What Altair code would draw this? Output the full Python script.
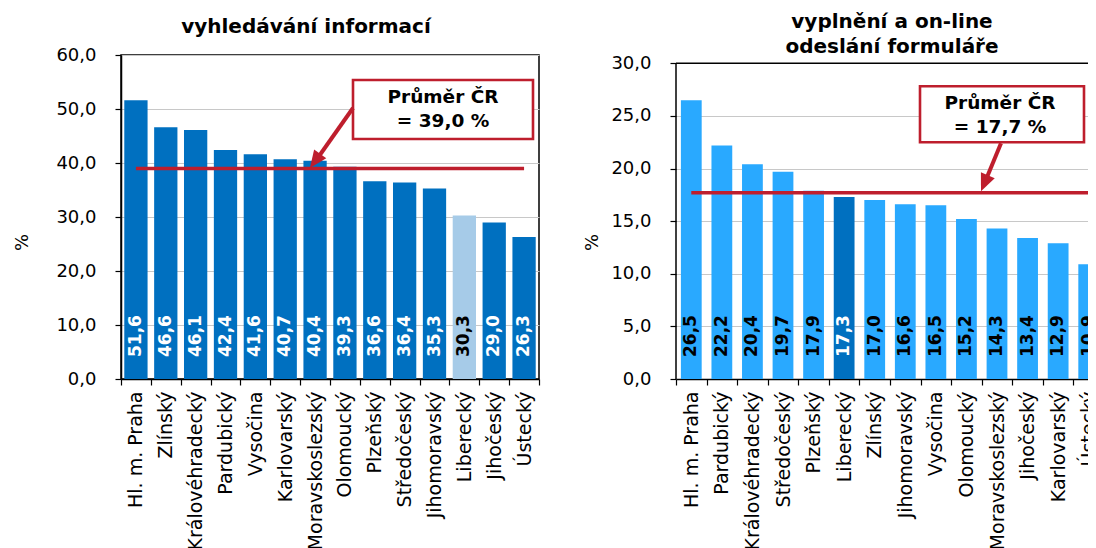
import altair as alt
import pandas as pd

# ---------------- data ----------------
left_regions = ["Hl. m. Praha", "Zlínský", "Královéhradecký", "Pardubický", "Vysočina",
                "Karlovarský", "Moravskoslezský", "Olomoucký", "Plzeňský", "Středočeský",
                "Jihomoravský", "Liberecký", "Jihočeský", "Ústecký"]
left_values = [51.6, 46.6, 46.1, 42.4, 41.6, 40.7, 40.4, 39.3, 36.6, 36.4, 35.3, 30.3, 29.0, 26.3]
left_avg = 39.0
left_title = ["vyhledávání informací"]

right_regions = ["Hl. m. Praha", "Pardubický", "Královéhradecký", "Středočeský", "Plzeňský",
                 "Liberecký", "Zlínský", "Jihomoravský", "Vysočina", "Olomoucký",
                 "Moravskoslezský", "Jihočeský", "Karlovarský", "Ústecký"]
right_values = [26.5, 22.2, 20.4, 19.7, 17.9, 17.3, 17.0, 16.6, 16.5, 15.2, 14.3, 13.4, 12.9, 10.9]
right_avg = 17.7
right_title = ["vyplnění a on-line", "odeslání formuláře"]

highlight = "Liberecký"
avg_caption = "Průměr ČR"

FONT = "DejaVu Sans"
RED = "#BE1E2D"


def fmt(v):
    return f"{v:.1f}".replace(".", ",")


def panel(regions, values, avg, ymax, ytop, ystep, w, h, band, base_col, hl_col,
          base_txt, hl_txt, title_lines, title_x, title_ys, top_y, title_x_off,
          box, txt_pos, arrow, head, head_angle, framed):
    df = pd.DataFrame({"region": regions, "value": values})
    df["label"] = [fmt(v) for v in values]
    df["kind"] = ["hl" if r == highlight else "base" for r in regions]
    df["avg"] = avg

    x_axis = alt.Axis(title=None, labelAngle=270, labelFont=FONT, labelFontSize=19,
                      labelColor="black", labelPadding=6, labelLimit=400,
                      labelOverlap=False, tickBand="extent", tickSize=6,
                      tickColor="black", tickWidth=1.2, domainColor="black",
                      domainWidth=1.5, grid=False)
    y_axis = alt.Axis(title="%", values=list(range(0, ymax + 1, ystep)),
                      labelExpr="replace(format(datum.value, '.1f'), '.', ',')",
                      labelFont=FONT, labelFontSize=18, labelColor="black",
                      labelPadding=19, tickSize=6, tickColor="black", tickWidth=1.2,
                      domain=framed, domainColor="black", domainWidth=1.5,
                      gridColor="#C8C8C8", gridWidth=1, titleFont=FONT,
                      titleFontSize=18, titleFontWeight="normal", titleColor="black",
                      titleX=title_x_off, titleY=187)
    xs = alt.X("region:N", sort=regions,
               scale=alt.Scale(paddingInner=0, paddingOuter=0), axis=x_axis)
    ys = alt.Y("value:Q", scale=alt.Scale(domain=[0, ytop], nice=False), axis=y_axis)

    base = alt.Chart(df)
    bars = base.mark_bar(width={"band": band}).encode(
        x=xs, y=ys,
        color=alt.condition(alt.datum.kind == "hl", alt.value(hl_col), alt.value(base_col)),
    )
    labels = base.mark_text(angle=270, align="left", baseline="middle", dx=22,
                            font=FONT, fontSize=17, fontWeight="bold").encode(
        x=alt.X("region:N", sort=regions),
        y=alt.datum(0),
        text="label:N",
        color=alt.condition(alt.datum.kind == "hl", alt.value(hl_txt), alt.value(base_txt)),
    )
    avg_line = base.mark_line(color=RED, strokeWidth=3.5).encode(
        x=alt.X("region:N", sort=regions), y="avg:Q")

    ann_df = pd.DataFrame({"l1": [avg_caption], "l2": [f"= {fmt(avg)} %"],
                           "lo": [0], "hi": [ymax]})
    ann = alt.Chart(ann_df)
    layers = [bars, avg_line, labels]

    if not framed:
        # plot frame drawn at the top value of the axis (left edge and top edge)
        layers.append(ann.mark_rule(color="black", strokeWidth=1.5).encode(
            x=alt.value(0), y=alt.Y("lo:Q"), y2="hi:Q"))
        layers.append(ann.mark_rule(color="black", strokeWidth=1.5).encode(
            x=alt.value(0), x2=alt.value(w), y=alt.Y("hi:Q")))

    box_m = ann.mark_rect(fill="white", stroke=RED, strokeWidth=2.6).encode(
        x=alt.value(box[0]), x2=alt.value(box[1]), y=alt.value(box[2]), y2=alt.value(box[3]))
    t1 = ann.mark_text(font=FONT, fontSize=18.5, fontWeight="bold", color="black",
                       align="center", baseline="middle").encode(
        x=alt.value(txt_pos[0]), y=alt.value(txt_pos[1]), text="l1:N")
    t2 = ann.mark_text(font=FONT, fontSize=18.5, fontWeight="bold", color="black",
                       align="center", baseline="middle").encode(
        x=alt.value(txt_pos[0]), y=alt.value(txt_pos[2]), text="l2:N")
    arr = ann.mark_rule(color=RED, strokeWidth=4).encode(
        x=alt.value(arrow[0]), y=alt.value(arrow[1]), x2=alt.value(arrow[2]), y2=alt.value(arrow[3]))
    hd = ann.mark_point(shape="M0,-1L0.75,0.75L-0.75,0.75Z", filled=True, size=400,
                        angle=head_angle, color=RED, opacity=1).encode(
        x=alt.value(head[0]), y=alt.value(head[1]))

    # white anchor that fixes the top extent of the panel
    top_anchor = ann.mark_rule(color="white", strokeWidth=1).encode(
        x=alt.value(0), x2=alt.value(4), y=alt.value(top_y))

    layers += [box_m, t1, t2, arr, hd, top_anchor]

    title_df = pd.DataFrame({"t": title_lines})
    for i, ty in enumerate(title_ys):
        layers.append(
            alt.Chart(title_df.iloc[[i]]).mark_text(
                font=FONT, fontSize=20, fontWeight="bold", color="black",
                align="center", baseline="alphabetic").encode(
                x=alt.value(title_x), y=alt.value(ty), text="t:N"))

    view = (alt.ViewBackground(stroke="black", strokeWidth=1.5) if framed
            else alt.ViewBackground(stroke="transparent"))
    return alt.layer(*layers).properties(width=w, height=h, view=view)


left = panel(left_regions, left_values, left_avg, 60, 60, 10, 418, 324, 0.78,
             "#0070C0", "#A6CBE8", "white", "black",
             left_title, 185, [-21.7], -46.5, -90,
             box=(232, 412, 25, 84), txt_pos=(322, 42, 66),
             arrow=(232, 53, 196, 104), head=(194.8, 104.9), head_angle=216,
             framed=True)

right = panel(right_regions, right_values, right_avg, 30, 30.79, 5, 428, 324, 0.68,
              "#29A9FF", "#0070C0", "black", "white",
              right_title, 216, [-26.7, -1.7], -46.5, -75,
              box=(244, 408, 31.3, 87.3), txt_pos=(324, 48.3, 72.3),
              arrow=(325, 88.3, 309, 127), head=(308.9, 127.1), head_angle=203,
              framed=False)

chart = alt.hconcat(left, right, spacing=41).properties(
    autosize=alt.AutoSizeParams(type="none"),
    padding={"left": 113, "top": 47, "right": 967, "bottom": 483},
)

chart.save("out.html", embed_options={"renderer": "svg", "actions": False})
